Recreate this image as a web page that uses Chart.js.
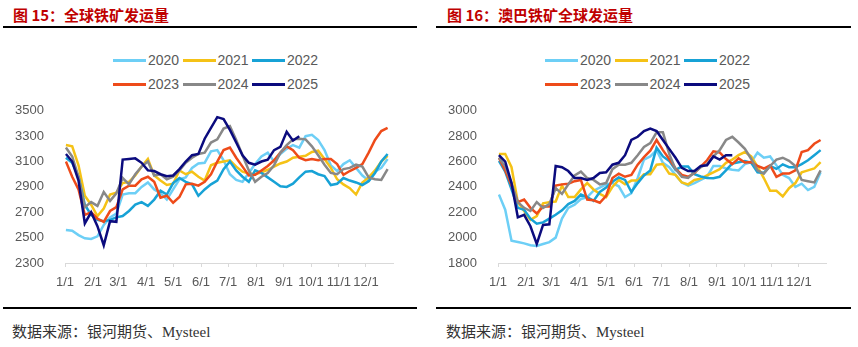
<!DOCTYPE html>
<html>
<head>
<meta charset="utf-8">
<script src="https://cdn.jsdelivr.net/npm/chart.js@4"></script>
<style>
  body { margin:0; width:858px; height:347px; background:#fff; position:relative; overflow:hidden; font-family:"Liberation Sans", Arial, sans-serif; }
  .title { position:absolute; top:5px; font:bold 15px "Noto Sans CJK SC", sans-serif; color:#C00000; line-height:20px; white-space:nowrap; }
  .rule { position:absolute; height:2px; background:#000; }
  .legend-item { position:absolute; height:18px; display:flex; align-items:center; font-size:14px; color:#595959; white-space:nowrap; }
  .legend-item i { display:inline-block; width:33px; height:3px; margin-right:2px; }
  .source { position:absolute; top:322px; font:15px "Liberation Serif", "Noto Sans CJK SC", serif; color:#333; white-space:nowrap; line-height:20px; }
  .chart-box { position:absolute; top:90px; width:420px; height:205px; }
</style>
</head>
<body>
<div class="title" style="left:13px">图 15：全球铁矿发运量</div>
<div class="rule" style="left:3px; top:26px; width:414px"></div>
<div class="title" style="left:447px">图 16：澳巴铁矿全球发运量</div>
<div class="rule" style="left:436px; top:26px; width:415px"></div>

<div id="legendA"></div>
<div id="legendB"></div>

<div class="chart-box" style="left:0"><canvas id="chartA" width="420" height="205"></canvas></div>
<div class="chart-box" style="left:433px"><canvas id="chartB" width="420" height="205"></canvas></div>

<div class="rule" style="left:3px; top:307px; width:414px"></div>
<div class="rule" style="left:436px; top:307px; width:415px"></div>
<div class="source" style="left:12px">数据来源：银河期货、Mysteel</div>
<div class="source" style="left:446px">数据来源：银河期货、Mysteel</div>

<script>
// Years shown in both panels, with their line colours
const years = ['2020', '2021', '2022', '2023', '2024', '2025'];
const yearColors = ['#6DCFF6', '#F5C216', '#17A2D6', '#EE4B1A', '#888888', '#0B0B7E'];

// Month ticks on the x axis (day of year where each month starts)
const monthStartDays = [0, 31, 59, 90, 120, 151, 181, 212, 243, 273, 304, 334];
const monthLabels = ['1/1', '2/1', '3/1', '4/1', '5/1', '6/1', '7/1', '8/1', '9/1', '10/1', '11/1', '12/1'];

// Day of year of each weekly reading
const weekDays = [1,8,15,22,29,36,43,50,57,64,71,78,85,92,99,106,113,120,127,134,141,148,155,162,169,176,183,190,197,204,211,218,225,232,239,246,253,260,267,274,281,288,295,302,309,316,323,330,337,344,351,358];

// 全球铁矿发运量 (weekly, 万吨)
const global2020 = [2560,2555,2520,2495,2490,2510,2600,2660,2690,2840,2850,2850,2900,2935,2880,2850,2800,2880,2960,2975,3050,3085,3090,3180,3190,3110,3000,2955,2940,3010,3080,3140,3170,3100,3160,3200,3230,3210,3300,3310,3270,3190,3070,3025,3080,3110,3050,2990,2950,3020,3050,3120];
const global2021 = [3230,3220,3070,2830,2760,2670,2730,2840,2855,2930,2940,2990,3060,3120,2990,2950,2915,2925,3030,3000,3020,2980,2950,3070,3090,3100,3110,3060,3020,3005,3000,3015,3035,3060,3085,3100,3130,3137,3145,3175,3185,3120,3050,2960,2920,2890,2840,2935,2975,3030,3100,3145];
const global2022 = [3130,3090,2980,2760,2680,2640,2630,2640,2660,2670,2710,2760,2780,2750,2800,2870,2840,2930,2970,2940,2920,2830,2880,2920,2950,3040,3100,3030,2980,2940,3030,3010,2975,2940,2905,2900,2925,2975,3020,3025,3000,2985,2915,2925,2970,2950,2935,2915,2945,3010,3100,3160];
const global2023 = [3100,2980,2880,2680,2700,2650,2625,2710,2740,2880,2910,2910,2960,2980,2940,2815,2830,2775,2820,2920,2925,2910,2940,3000,3100,3190,3210,3130,3060,2990,2995,3030,3065,3110,3170,3220,3190,3130,3110,3120,3110,3120,3120,3080,2995,3025,3050,3080,3170,3270,3340,3365];
const global2024 = [3210,3140,2980,2740,2780,2750,2860,2790,2850,2970,2920,3000,3060,3100,2990,3000,2960,2980,3030,3090,3130,3160,3170,3250,3275,3360,3380,3270,3150,3030,2940,2980,3010,3070,3170,3230,3275,3280,3275,3220,3150,3075,3010,3000,3040,3050,3075,3060,2975,2960,2955,3040];
const global2025 = [3160,3100,2950,2612,2700,2590,2440,2630,2625,3115,3120,3125,3090,3030,3025,3000,2985,2990,3040,3100,3150,3160,3280,3365,3450,3435,3350,3250,3150,3090,3075,3100,3115,3190,3215,3335,3265,3300];

// 澳巴铁矿全球发运量 (weekly, 万吨)
const ausBra2020 = [2340,2220,1975,1965,1955,1940,1935,1950,1965,2000,2150,2235,2260,2305,2320,2370,2395,2420,2430,2405,2320,2350,2470,2615,2640,2690,2590,2555,2495,2435,2410,2430,2455,2480,2565,2565,2545,2535,2530,2580,2595,2670,2630,2640,2570,2495,2470,2400,2425,2375,2400,2515];
const ausBra2021 = [2660,2660,2555,2280,2210,2140,2170,2270,2280,2285,2410,2320,2320,2380,2430,2380,2345,2320,2400,2455,2420,2450,2450,2500,2500,2575,2580,2505,2495,2435,2420,2455,2465,2490,2515,2540,2590,2615,2650,2675,2640,2560,2470,2370,2370,2325,2390,2430,2515,2530,2545,2595];
const ausBra2022 = [2605,2520,2380,2235,2220,2150,2110,2120,2150,2180,2215,2265,2290,2340,2320,2290,2360,2395,2440,2475,2455,2360,2430,2490,2530,2710,2640,2605,2535,2560,2560,2500,2482,2470,2468,2480,2530,2585,2595,2604,2590,2515,2510,2565,2542,2578,2555,2555,2580,2610,2650,2690];
const ausBra2023 = [2630,2530,2410,2280,2300,2235,2190,2245,2245,2410,2420,2425,2445,2455,2300,2295,2275,2330,2470,2505,2480,2495,2575,2635,2685,2770,2690,2620,2545,2495,2480,2510,2560,2610,2680,2672,2620,2580,2625,2592,2597,2565,2545,2570,2480,2505,2505,2530,2675,2690,2740,2770];
const ausBra2024 = [2630,2560,2430,2280,2235,2210,2280,2235,2265,2390,2345,2420,2490,2520,2470,2455,2420,2430,2540,2575,2575,2590,2650,2715,2745,2830,2830,2660,2540,2480,2470,2515,2555,2580,2640,2690,2770,2795,2750,2700,2620,2530,2505,2565,2615,2630,2605,2565,2455,2445,2435,2530];
const ausBra2025 = [2650,2600,2430,2160,2180,2090,1950,2100,2105,2565,2555,2525,2470,2470,2455,2470,2510,2515,2575,2590,2650,2770,2795,2840,2860,2840,2770,2700,2630,2550,2525,2525,2565,2570,2640,2615,2650,2650];

const globalSeries = [global2020, global2021, global2022, global2023, global2024, global2025];
const ausBraSeries = [ausBra2020, ausBra2021, ausBra2022, ausBra2023, ausBra2024, ausBra2025];

// HTML legend: two rows of three years each
function buildLegend(el, left) {
  years.forEach((yr, i) => {
    const item = document.createElement('div');
    item.className = 'legend-item';
    item.style.left = (left + (i % 3) * 69.5) + 'px';
    item.style.top = (51 + Math.floor(i / 3) * 24) + 'px';
    const swatch = document.createElement('i');
    swatch.style.background = yearColors[i];
    item.appendChild(swatch);
    item.appendChild(document.createTextNode(yr));
    el.appendChild(item);
  });
}
buildLegend(document.getElementById('legendA'), 113);
buildLegend(document.getElementById('legendB'), 545);

Chart.defaults.font.family = '"Liberation Sans", Arial, sans-serif';
Chart.defaults.color = '#595959';

function makeChart(canvasId, series, yMin, yMax, padTop) {
  const datasets = series.map((values, i) => ({
    label: years[i],
    data: values.map((v, k) => ({ x: weekDays[k], y: v })),
    borderColor: yearColors[i],
    backgroundColor: yearColors[i],
    borderWidth: 2.5,
    pointRadius: 0,
    tension: 0,
    fill: false,
    order: years.length - 1 - i
  }));
  return new Chart(document.getElementById(canvasId), {
    type: 'line',
    data: { datasets },
    options: {
      responsive: false,
      animation: false,
      devicePixelRatio: 1,
      layout: { padding: { top: padTop, right: 27, left: 0, bottom: 0 } },
      plugins: { legend: { display: false }, tooltip: { enabled: false } },
      scales: {
        x: {
          type: 'linear',
          min: 0,
          max: 364,
          afterBuildTicks: (scale) => { scale.ticks = monthStartDays.map(v => ({ value: v })); },
          afterFit: (scale) => { scale.height = 32; },
          ticks: {
            autoSkip: false,
            maxRotation: 0,
            padding: 8,
            color: '#595959',
            font: { size: 13 },
            callback: (value, index) => monthLabels[index]
          },
          grid: { drawOnChartArea: false, drawTicks: true, tickLength: 4, color: '#d9d9d9' },
          border: { display: true, color: '#d9d9d9', width: 1 }
        },
        y: {
          min: yMin,
          max: yMax,
          afterFit: (scale) => { scale.width = 65; },
          ticks: {
            stepSize: 200,
            padding: 13,
            color: '#595959',
            font: { size: 13 },
            callback: (value) => String(value)
          },
          grid: { display: false },
          border: { display: false }
        }
      }
    }
  });
}

makeChart('chartA', globalSeries, 2300, 3500, 13);
makeChart('chartB', ausBraSeries, 1800, 3000, 12);
</script>
</body>
</html>
